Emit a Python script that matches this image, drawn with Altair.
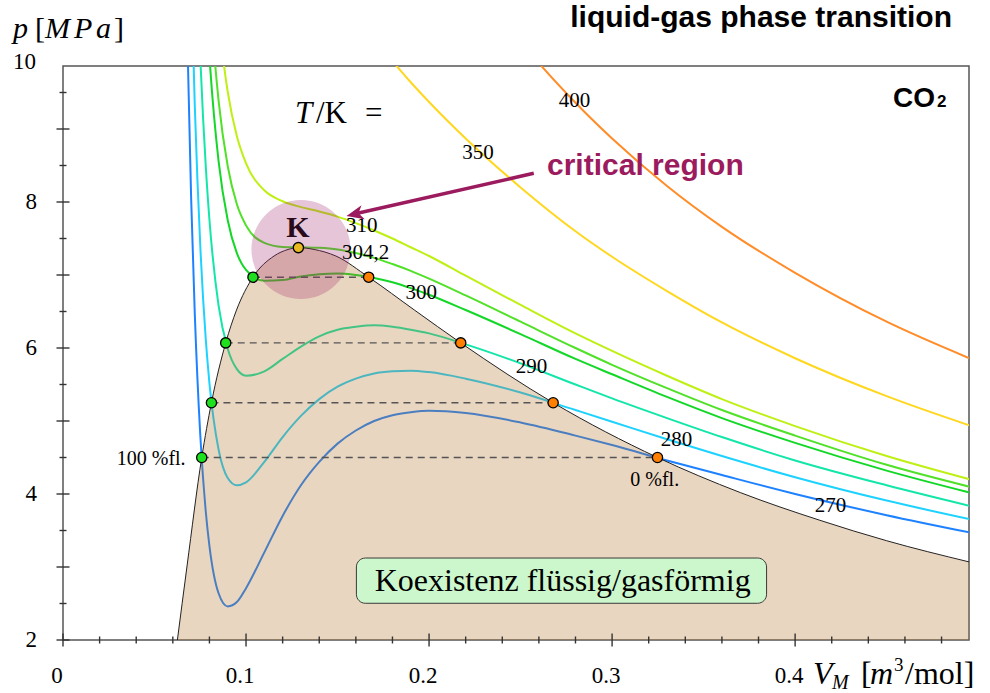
import altair as alt
import pandas as pd

# ---------------------------------------------------------------
# CO2 isotherms (van der Waals), pressure p [MPa] over molar volume
# ---------------------------------------------------------------
V_GRID = [0.064, 0.066, 0.068, 0.070, 0.072, 0.075, 0.078, 0.080, 0.085, 0.090,
          0.095, 0.100, 0.110, 0.120, 0.130, 0.140, 0.150, 0.160, 0.170, 0.180,
          0.190, 0.200, 0.220, 0.250, 0.280, 0.300, 0.330, 0.360, 0.400, 0.450,
          0.500]

P_270 = [16.88, 13.03, 10.18, 8.06, 6.47, 4.81, 3.76, 3.29, 2.64, 2.46,
         2.52, 2.71, 3.20, 3.70, 4.12, 4.44, 4.69, 4.87, 5.00, 5.08,
         5.12, 5.14, 5.11, 4.98, 4.80, 4.67, 4.46, 4.26, 4.00, 3.71,
         3.45]
P_280 = [20.81, 16.62, 13.49, 11.12, 9.32, 7.40, 6.12, 5.52, 4.61, 4.22,
         4.12, 4.16, 4.44, 4.78, 5.07, 5.30, 5.47, 5.58, 5.65, 5.68,
         5.69, 5.67, 5.58, 5.39, 5.15, 4.99, 4.75, 4.52, 4.23, 3.91,
         3.63]
P_290 = [None, 20.22, 16.80, 14.19, 12.18, 9.99, 8.49, 7.76, 6.58, 5.99,
         5.71, 5.62, 5.68, 5.85, 6.02, 6.16, 6.25, 6.29, 6.31, 6.29,
         6.25, 6.20, 6.05, 5.79, 5.50, 5.31, 5.04, 4.78, 4.46, 4.12,
         3.81]
P_300 = [None, None, 20.10, 17.25, 15.03, 12.57, 10.86, 10.00, 8.56, 7.75,
         7.30, 7.07, 6.92, 6.93, 6.98, 7.01, 7.02, 7.00, 6.96, 6.90,
         6.82, 6.73, 6.52, 6.19, 5.85, 5.64, 5.33, 5.04, 4.70, 4.32,
         3.99]
P_304 = [None, None, 21.49, 18.53, 16.23, 13.66, 11.85, 10.94, 9.39, 8.49,
         7.97, 7.68, 7.44, 7.385, 7.379, 7.372, 7.35, 7.30, 7.235, 7.15,
         7.056, 6.95, 6.72, 6.36, 6.00, 5.77, 5.45, 5.15, 4.80, 4.40,
         4.07]
P_310 = [None, None, 23.41, 20.31, 17.88, 15.16, 13.22, 12.24, 10.53, 9.51,
         8.90, 8.53, 8.16, 8.01, 7.93, 7.87, 7.80, 7.71, 7.61, 7.50,
         7.38, 7.26, 6.99, 6.59, 6.20, 5.96, 5.62, 5.30, 4.93, 4.52,
         4.17]
P_350 = [None, None, None, None, None, None, None, None, None, None,
         None, None, None, None, 11.75, 11.29, 10.90, 10.55, 10.23, 9.93,
         9.64, 9.37, 8.87, 8.20, 7.60, 7.25, 6.78, 6.35, 5.86, 5.34,
         4.90]
P_400 = [None, None, None, None, None, None, None, None, None, None,
         None, None, None, None, None, None, None, None, 13.50, 12.96,
         12.47, 12.02, 11.22, 10.20, 9.36, 8.87, 8.22, 7.66, 7.03, 6.36,
         5.81]

TEMPS = ["270", "280", "290", "300", "304,2", "310", "350", "400"]
TEMP_COLORS = ["#1E82FF", "#1ED2FF", "#14E6AA", "#14D728",
               "#50E128", "#BEF014", "#FFD71E", "#FF8C28"]

# coexistence boundary (binodal)
BIN_V = [0.0625, 0.0677, 0.0758, 0.0811, 0.0889, 0.0948, 0.1038, 0.1153, 0.1230,
         0.1286, 0.1372, 0.1491, 0.1670, 0.1920, 0.2173, 0.2678, 0.3248, 0.3700,
         0.4135, 0.4500, 0.4950]
BIN_P = [2.00, 3.00, 4.50, 5.25, 6.07, 6.52, 6.97, 7.26, 7.35,
         7.375, 7.35, 7.26, 6.97, 6.52, 6.07, 5.25, 4.50, 4.02,
         3.64, 3.36, 3.07]

# saturated states joined by the horizontal tie lines
SAT_P = [4.50, 5.25, 6.07, 6.97]
SAT_V_LIQ = [0.0758, 0.0811, 0.0889, 0.1038]
SAT_V_GAS = [0.3248, 0.2678, 0.2173, 0.1670]

# critical point K
CRIT_V = [0.1286]
CRIT_P = [7.375]

# axis ticks and tick labels
X_MAJOR = [0, 0.1, 0.2, 0.3, 0.4]
X_LABELS = ["0", "0.1", "0.2", "0.3", "0.4"]
X_MINOR = [0.02, 0.04, 0.06, 0.08, 0.12, 0.14, 0.16, 0.18, 0.22, 0.24,
           0.26, 0.28, 0.32, 0.34, 0.36, 0.38, 0.42, 0.44, 0.46, 0.48]
Y_MAJOR = [2, 3, 4, 5, 6, 7, 8, 9]
Y_MINOR = [2.5, 3.5, 4.5, 5.5, 6.5, 7.5, 8.5, 9.5]
Y_LABEL_VALUES = [2, 4, 6, 8]
Y_LABELS = ["2", "4", "6", "8"]

# isotherm labels
CURVE_LABELS = ["400", "350", "310", "304,2", "300", "290", "280", "270"]

# ---------------- layout of annotations ----------------
CURVE_LABEL_V = [0.2794, 0.2268, 0.1632, 0.1654, 0.1958, 0.2560, 0.3352, 0.4193]
CURVE_LABEL_P = [9.384, 8.667, 7.678, 7.308, 6.749, 5.744, 4.740, 3.840]

W, H = 906, 574
SERIF = "Liberation Serif"
SANS = "Liberation Sans"
MAGENTA = "#9B1B5E"

x_scale = alt.Scale(domain=[0, 0.495], nice=False, zero=False)
y_scale = alt.Scale(domain=[2, 9.863], nice=False, zero=False)


def X(field, **kw):
    return alt.X(field, scale=x_scale, axis=None, **kw)


def Y(field, **kw):
    return alt.Y(field, scale=y_scale, axis=None, **kw)


# long table of isotherms
rows = []
for t, ps in zip(TEMPS, [P_270, P_280, P_290, P_300, P_304, P_310, P_350, P_400]):
    assert len(ps) == len(V_GRID)
    for v, p in zip(V_GRID, ps):
        if p is not None:
            rows.append({"T": t, "V": v, "p": p})
iso = pd.DataFrame(rows)

binodal = pd.DataFrame({"V": BIN_V, "p": BIN_P})
ties = pd.DataFrame({"p": SAT_P, "vl": SAT_V_LIQ, "vg": SAT_V_GAS})

isotherms = alt.Chart(iso).mark_line(clip=True, strokeWidth=2, interpolate="monotone").encode(
    x=X("V:Q"),
    y=Y("p:Q"),
    color=alt.Color("T:N", scale=alt.Scale(domain=TEMPS, range=TEMP_COLORS), legend=None),
)

# translucent coexistence region laid over the isotherms
region = alt.Chart(binodal).mark_area(
    clip=True, interpolate="monotone", color="#B67630", opacity=0.3
).encode(x=X("V:Q"), y=Y("p:Q"), y2=alt.datum(2))

region_edge = alt.Chart(binodal).mark_line(
    clip=True, interpolate="monotone", color="#222222", strokeWidth=1
).encode(x=X("V:Q"), y=Y("p:Q"))

tie_lines = alt.Chart(ties).mark_rule(
    color="#555555", strokeWidth=1.4, strokeDash=[7, 5]
).encode(x=X("vl:Q"), x2="vg:Q", y=Y("p:Q"))

crit_halo = alt.Chart(pd.DataFrame({"V": [0.1300], "p": [7.349]})).mark_circle(
    size=9800, color="#A0306E", opacity=0.28
).encode(x=X("V:Q"), y=Y("p:Q"))

liq_pts = alt.Chart(ties).mark_circle(
    size=105, color="#1EE01E", opacity=1, stroke="black", strokeWidth=1.3
).encode(x=X("vl:Q"), y=Y("p:Q"))
gas_pts = alt.Chart(ties).mark_circle(
    size=105, color="#FF7F00", opacity=1, stroke="black", strokeWidth=1.3
).encode(x=X("vg:Q"), y=Y("p:Q"))
crit_pt = alt.Chart(pd.DataFrame({"V": CRIT_V, "p": CRIT_P})).mark_circle(
    size=105, color="#E8B820", opacity=1, stroke="black", strokeWidth=1.3
).encode(x=X("V:Q"), y=Y("p:Q"))


def ticks(values, orient, size):
    df = pd.DataFrame({"v": values})
    if orient == "vertical":
        enc = dict(x=X("v:Q"), y=alt.value(H))
    else:
        enc = dict(y=Y("v:Q"), x=alt.value(0))
    return alt.Chart(df).mark_tick(orient=orient, size=size, thickness=1.4,
                                   color="#333333", opacity=1).encode(**enc)


tick_layers = [ticks(X_MAJOR, "vertical", 13), ticks(X_MINOR, "vertical", 7),
               ticks(Y_MAJOR, "horizontal", 13), ticks(Y_MINOR, "horizontal", 7)]

x_tick_labels = alt.Chart(pd.DataFrame({"v": X_MAJOR, "t": X_LABELS})).mark_text(
    font=SERIF, fontSize=23, color="black", dx=-6, baseline="middle"
).encode(x=X("v:Q"), y=alt.value(H + 36), text="t:N")

y_tick_labels = alt.Chart(pd.DataFrame({"v": Y_LABEL_VALUES, "t": Y_LABELS})).mark_text(
    font=SERIF, fontSize=23, color="black", align="right", baseline="middle"
).encode(y=Y("v:Q"), x=alt.value(-26), text="t:N")

curve_labels = alt.Chart(pd.DataFrame({
    "t": CURVE_LABELS, "V": CURVE_LABEL_V, "p": CURVE_LABEL_P
})).mark_text(font=SERIF, fontSize=21, color="black").encode(
    x=X("V:Q"), y=Y("p:Q"), text="t:N")


def data_text(text, v, p, **kw):
    return alt.Chart(pd.DataFrame({"t": [text], "V": [v], "p": [p]})).mark_text(**kw).encode(
        x=X("V:Q"), y=Y("p:Q"), text="t:N")


def px_text(text, x, y, **kw):
    return alt.Chart(pd.DataFrame({"t": [text]})).mark_text(**kw).encode(
        x=alt.value(x), y=alt.value(y), text="t:N")


state_labels = [
    data_text("100 %fl.", 0.0670, 4.475, font=SERIF, fontSize=20, align="right"),
    data_text("0 %fl.", 0.3233, 4.192, font=SERIF, fontSize=20),
    data_text("K", 0.1284, 7.640, font=SERIF, fontSize=30, fontWeight="bold", color="#2A0B1C"),
]

# coexistence box
box = alt.Chart(pd.DataFrame({"a": [0.1603], "b": [0.3844], "c": [3.123], "d": [2.503]})).mark_rect(
    cornerRadius=9, fill="#CCF7CC", stroke="#3A3A3A", strokeWidth=1
).encode(x=X("a:Q"), x2="b:Q", y=Y("c:Q"), y2="d:Q")
box_text = data_text("Koexistenz flüssig/gasförmig", 0.2730, 2.808, font=SERIF, fontSize=32)

# arrow pointing at the critical region
arrow_line = alt.Chart(pd.DataFrame({"a": [0.2572], "b": [0.1591], "c": [8.393], "d": [7.836]})).mark_rule(
    color=MAGENTA, strokeWidth=3.5
).encode(x=X("a:Q"), x2="b:Q", y=Y("c:Q"), y2="d:Q")
arrow_head = alt.Chart(pd.DataFrame({"V": [0.1549], "p": [7.808]})).mark_point(
    shape="M0,0L-2,-0.85L-1.45,0L-2,0.85Z", size=289, angle=167.2,
    filled=True, color=MAGENTA, opacity=1, strokeWidth=0
).encode(x=X("V:Q"), y=Y("p:Q"))

BL = dict(align="left", baseline="alphabetic")
texts = [
    px_text("liquid-gas phase transition", 889, -39, font=SANS, fontSize=30,
            fontWeight="bold", align="right", baseline="alphabetic"),
    px_text("CO", 830, 41, font=SANS, fontSize=28, fontWeight="bold", **BL),
    px_text("2", 874, 41, font=SANS, fontSize=17, fontWeight="bold", **BL),
    px_text("critical region", 484, 109, font=SANS, fontSize=30, fontWeight="bold",
            color=MAGENTA, **BL),
    px_text("T", 232, 57, font=SERIF, fontSize=31, fontStyle="italic", **BL),
    px_text("/K", 253, 57, font=SERIF, fontSize=31, **BL),
    px_text("=", 302, 57, font=SERIF, fontSize=31, **BL),
    # y axis title p [MPa]
    px_text("p", -50, -28, font=SERIF, fontSize=30, fontStyle="italic", **BL),
    px_text("[", -28, -28, font=SERIF, fontSize=30, **BL),
    px_text("M", -18, -28, font=SERIF, fontSize=30, fontStyle="italic", **BL),
    px_text("P", 11, -28, font=SERIF, fontSize=30, fontStyle="italic", **BL),
    px_text("a", 33, -28, font=SERIF, fontSize=30, fontStyle="italic", **BL),
    px_text("]", 51, -28, font=SERIF, fontSize=30, **BL),
    px_text("10", -27, -4, font=SERIF, fontSize=23, align="right", baseline="middle"),
    # x axis title V_M [m^3/mol]
    px_text("V", 750, 618, font=SERIF, fontSize=32, fontStyle="italic", **BL),
    px_text("M", 769, 623, font=SERIF, fontSize=20, fontStyle="italic", **BL),
    px_text("[", 798, 618, font=SERIF, fontSize=32, **BL),
    px_text("m", 807, 618, font=SERIF, fontSize=32, fontStyle="italic", **BL),
    px_text("3", 831, 605, font=SERIF, fontSize=19, **BL),
    px_text("/mol]", 842, 618, font=SERIF, fontSize=32, **BL),
]

chart = alt.layer(
    isotherms, region, region_edge, tie_lines, crit_halo,
    liq_pts, gas_pts, crit_pt, *tick_layers, x_tick_labels, y_tick_labels,
    curve_labels, *state_labels, box, box_text, arrow_line, arrow_head, *texts
).properties(
    width=W, height=H,
    padding={"left": 63, "top": 66, "right": 21, "bottom": 53},
    autosize=alt.AutoSizeParams(type="none"),
    background="white",
).configure_view(stroke="#555555", strokeWidth=1.5)

chart.save("out.html", embed_options={"renderer": "svg", "actions": False})
